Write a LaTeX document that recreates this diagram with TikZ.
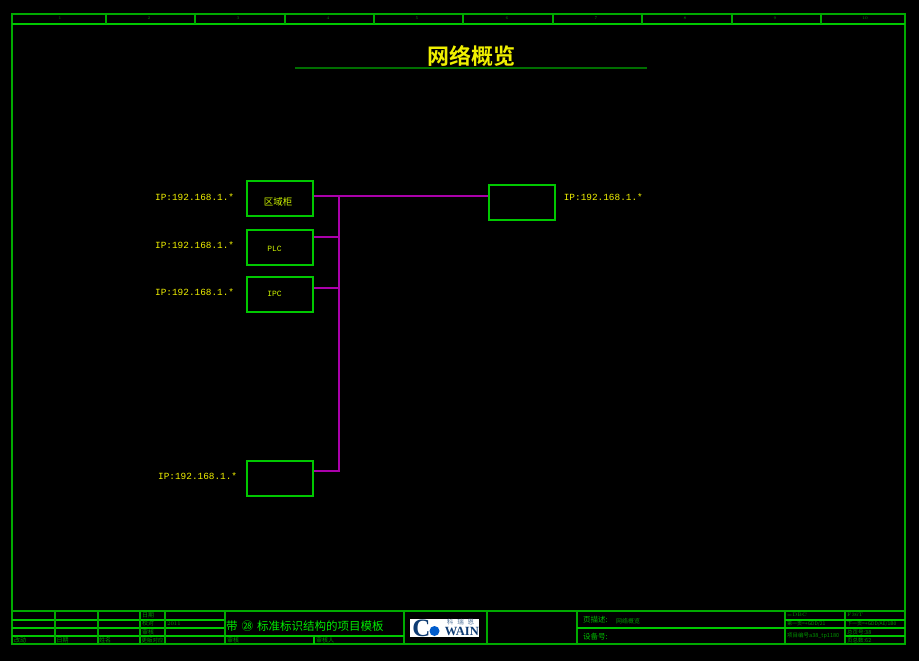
\documentclass[tikz,border=0pt]{standalone}
\usepackage{fontspec}
\newfontfamily\cjk{Noto Sans CJK SC}
\newfontfamily\cjkb{Noto Sans CJK SC Bold}
\newfontfamily\ipfont{Liberation Mono}
\newfontfamily\logofont{Liberation Serif}
\usetikzlibrary{positioning,calc}
\definecolor{frameg}{RGB}{0,170,0}
\definecolor{boxg}{RGB}{0,200,0}
\definecolor{limeg}{RGB}{0,235,0}
\definecolor{dimg}{RGB}{0,150,0}
\definecolor{undg}{RGB}{0,110,0}
\definecolor{busp}{RGB}{170,0,170}
\definecolor{ipy}{RGB}{240,240,0}
\definecolor{logob}{RGB}{15,60,115}
\tikzset{
  frm/.style={frameg,line width=1.3pt},
  grd/.style={boxg,line width=1.3pt},
  devbox/.style={draw=boxg,line width=1.3pt,minimum width=66pt,minimum height=35pt,inner sep=0pt},
  bus/.style={busp,line width=1.3pt},
  iplbl/.style={text=ipy,font=\ipfont\fontsize{9.4}{10}\selectfont,inner sep=0pt},
  devtxt/.style={text=ipy!85!green,font=\ipfont\fontsize{8}{9}\selectfont,inner sep=0pt},
  colnum/.style={text=dimg,font=\fontsize{4}{5}\selectfont,inner sep=0pt},
  tiny/.style={text=dimg,font=\cjk\fontsize{6}{7}\selectfont,inner sep=0pt,anchor=west},
  small/.style={text=limeg!80!black,font=\cjk\fontsize{7.5}{9}\selectfont,inner sep=0pt,anchor=west},
}
\begin{document}
\begin{tikzpicture}[x=1pt,y=-1pt]
  \fill[black] (0,0) rectangle (919,661);
  \useasboundingbox (0,0) rectangle (919,661);
  % drawing frame and column strip
  \draw[frm] (12,14) rectangle (905,644);
  \draw[grd] (12,24) -- (905,24);
  \foreach \cx in {106,195,285,374,463,553,642,732,821}
    \draw[frm] (\cx,14) -- (\cx,24);
  \foreach \nx/\num in {60/1,149/2,238/3,328/4,417/5,507/6,596/7,685/8,775/9,865/10}
    \node[colnum] (col\num) at (\nx,18.5) {\num};
  % page title
  \node[text=ipy,font=\cjkb\fontsize{22}{24}\selectfont,inner sep=0pt] (title) at (471,56.5) {网络概览};
  \draw[undg,line width=1.3pt] (295,68) -- (647,68);
  % devices
  \node[devbox] (areabox) at (280,198.5) {};
  \node[devbox] (plcbox) at (280,247.5) {};
  \node[devbox] (ipcbox) at (280,294.5) {};
  \node[devbox] (lastbox) at (280,478.5) {};
  \node[devbox] (swbox) at (522,202.5) {};
  \node[devtxt,font=\cjk\fontsize{9.5}{10}\selectfont] (areatxt) at (278,201.5) {区域柜};
  \node[devtxt] (plctxt) at (274.5,249) {PLC};
  \node[devtxt] (ipctxt) at (274.5,293.5) {IPC};
  \node[iplbl,left=12pt of areabox,yshift=1.5pt] (areaip) {IP:192.168.1.*};
  \node[iplbl,left=12pt of plcbox,yshift=2pt] (plcip) {IP:192.168.1.*};
  \node[iplbl,left=12pt of ipcbox,yshift=2pt] (ipcip) {IP:192.168.1.*};
  \node[iplbl,left=9pt of lastbox,yshift=2pt] (lastip) {IP:192.168.1.*};
  \node[iplbl,right=8pt of swbox,yshift=5.5pt] (swip) {IP:192.168.1.*};
  % network bus
  \coordinate (bustop) at (339,196);
  \coordinate (busbot) at (339,471);
  \draw[bus] (areabox.east |- bustop) -- (swbox.west |- bustop);
  \draw[bus] (bustop) -- (busbot) -- (lastbox.east |- busbot);
  \draw[bus] (plcbox.east |- 0,237) -- (339,237);
  \draw[bus] (ipcbox.east |- 0,288) -- (339,288);
  % title block
  \draw[frm] (12,611) -- (905,611);
  \foreach \ry in {620,628,636}
    \draw[grd] (12,\ry) -- (225,\ry);
  \foreach \cx in {55,98,140,165,225,404,487,577,785,845}
    \draw[frm] (\cx,611) -- (\cx,644);
  \draw[grd] (225,636) -- (404,636);
  \draw[grd] (314,636) -- (314,644);
  \draw[grd] (577,628) -- (905,628);
  \draw[grd] (785,620) -- (905,620);
  \draw[grd] (845,636) -- (905,636);
  % block texts
  \node[tiny] (tdate) at (142,615) {日期};
  \node[tiny] (tcheck) at (142,623.5) {校对};
  \node[tiny,font=\fontsize{5.5}{6}\selectfont] (tyear) at (167,623.5) {2011};
  \node[tiny] (taudit) at (142,632) {审核};
  \node[tiny] (tchg) at (14,640.5) {改动};
  \node[tiny] (tdate2) at (56.5,640.5) {日期};
  \node[tiny] (tname) at (99,640.5) {姓名};
  \node[tiny,font=\cjk\fontsize{5.5}{6}\selectfont] (tver) at (141.5,640.5) {更版对应};
  \node[tiny] (taud2) at (227,640.5) {审核};
  \node[tiny] (taud3) at (316,640.5) {审核人};
  \node[text=limeg,font=\cjk\fontsize{11.5}{13}\selectfont,inner sep=0pt,anchor=west] (proj) at (226,626.5) {带\hspace{4pt}㉘\hspace{4pt}标准标识结构的项目模板};
  \node[small] (pdesc) at (583,620) {页描述:};
  \node[tiny] (pname) at (616,621) {网络概览};
  \node[small] (devno) at (583,636.5) {设备号:};
  \node[tiny,font=\fontsize{5}{6}\selectfont] (lcode) at (787,614.5) {=DBC};
  \node[tiny,font=\cjk\fontsize{5}{6}\selectfont] (lprev) at (787,623.5) {第一页=+GDD/21};
  \node[tiny,font=\cjk\fontsize{5.5}{6}\selectfont] (lproj) at (787,636) {项目编号a38\_tp1180};
  \node[tiny,font=\fontsize{5}{6}\selectfont] (rcode) at (847,614.5) {F36T};
  \node[tiny,font=\cjk\fontsize{5}{6}\selectfont] (rnext) at (847,623.5) {下一页=+GDD/AE/1B0};
  \node[tiny,font=\cjk\fontsize{5.5}{6}\selectfont] (rtot) at (847,632) {总页号:38};
  \node[tiny,font=\cjk\fontsize{5.5}{6}\selectfont] (rall) at (847,640.5) {页总数:62};
  % logo
  \fill[white] (410,619) rectangle (479,637);
  \node[text=logob,font=\logofont\bfseries\fontsize{25}{25}\selectfont,inner sep=0pt] (logoc) at (421.5,628) {C};
  \fill[blue!55!cyan!80!black] (434.5,631) circle (5);
  \node[text=logob,font=\logofont\bfseries\fontsize{12.5}{13}\selectfont,inner sep=0pt,anchor=east] (logow) at (479,631) {WAIN};
  \node[text=logob!70!white,font=\cjk\fontsize{6.5}{7}\selectfont,inner sep=0pt] (logoz) at (460.5,622.5) {科\hspace{4pt}瑞\hspace{4pt}恩};
\end{tikzpicture}
\end{document}
